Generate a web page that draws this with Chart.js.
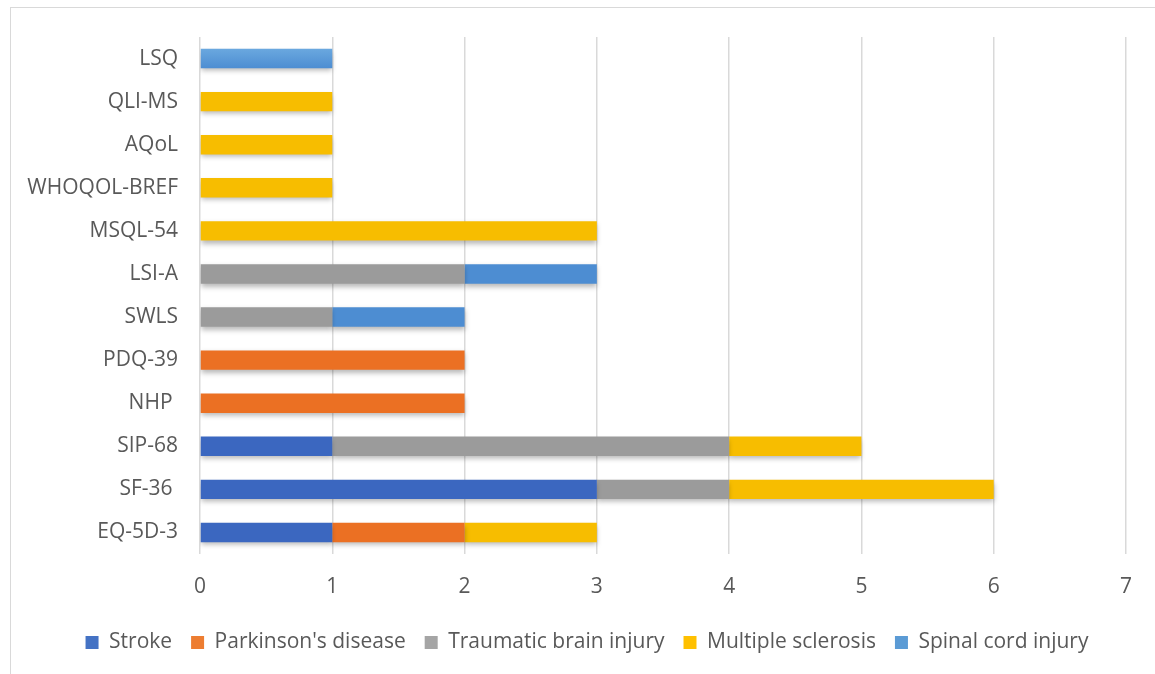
<!DOCTYPE html>
<html>
<head>
<meta charset="utf-8">
<script src="https://cdn.jsdelivr.net/npm/chart.js@4/dist/chart.umd.min.js"></script>
<style>
  html, body { margin: 0; padding: 0; background: #fff; }
  #wrap { position: relative; width: 1155px; height: 674px; overflow: hidden; }
  #frame { position: absolute; left: 10px; top: 7px; width: 1160px; height: 700px; border: 1px solid #d9d9d9; box-sizing: border-box; }
  canvas { position: absolute; left: 0; top: 0; }
</style>
</head>
<body>
<div id="wrap">
  <div id="frame"></div>
  <canvas id="c" width="1155" height="674"></canvas>
</div>
<script>
// Quality-of-life instruments, listed bottom to top on the chart
const instruments = ['EQ-5D-3', 'SF-36 ', 'SIP-68', 'NHP ', 'PDQ-39', 'SWLS', 'LSI-A', 'MSQL-54', 'WHOQOL-BREF', 'AQoL', 'QLI-MS', 'LSQ'];

// Number of uses per condition, same order as instruments
const stroke      = [1, 3, 1, 0, 0, 0, 0, 0, 0, 0, 0, 0];
const parkinsons  = [1, 0, 0, 2, 2, 0, 0, 0, 0, 0, 0, 0];
const brainInjury = [0, 1, 3, 0, 0, 1, 2, 0, 0, 0, 0, 0];
const msclerosis  = [1, 2, 1, 0, 0, 0, 0, 3, 1, 1, 1, 0];
const spinalCord  = [0, 0, 0, 0, 0, 1, 1, 0, 0, 0, 0, 1];

const xTicks = [0, 1, 2, 3, 4, 5, 6, 7];

const FONT = '"Open Sans", "Liberation Sans", sans-serif';
const TEXT = '#595959';

// Top/bottom shade pairs per series
const shades = {
  'Stroke': ['#5f89d6', '#3b67c0'],
  "Parkinson's disease": ['#f39255', '#eb7023'],
  'Traumatic brain injury': ['#b3b3b3', '#9b9b9b'],
  'Multiple sclerosis': ['#ffcc40', '#f7bd00'],
  'Spinal cord injury': ['#6aa8df', '#4d8dd2']
};

const series = [
  { label: 'Stroke', data: stroke, color: '#4472C4' },
  { label: "Parkinson's disease", data: parkinsons, color: '#ED7D31' },
  { label: 'Traumatic brain injury', data: brainInjury, color: '#A5A5A5' },
  { label: 'Multiple sclerosis', data: msclerosis, color: '#FFC000' },
  { label: 'Spinal cord injury', data: spinalCord, color: '#5B9BD5' }
];

// Vertical gradient and soft drop shadow on each bar
const barLook = {
  id: 'barLook',
  beforeDatasetsDraw(chart) {
    const ctx = chart.ctx;
    chart.data.datasets.forEach((ds, i) => {
      const meta = chart.getDatasetMeta(i);
      const pair = shades[ds.label];
      meta.data.forEach(bar => {
        const h = bar.height || 0;
        const g = ctx.createLinearGradient(0, bar.y - h / 2, 0, bar.y + h / 2);
        g.addColorStop(0, pair[0]);
        g.addColorStop(1, pair[1]);
        bar.options.backgroundColor = g;
      });
    });
    ctx.save();
    ctx.shadowColor = 'rgba(0,0,0,0.28)';
    ctx.shadowBlur = 5;
    ctx.shadowOffsetX = 0;
    ctx.shadowOffsetY = 3;
  },
  afterDatasetsDraw(chart) {
    chart.ctx.restore();
  }
};

// Center the legend row on the outer frame rather than the padded canvas
const legendShift = {
  id: 'legendShift',
  afterLayout(chart) {
    if (chart.legend) {
      chart.legend.left += 19;
      chart.legend.right += 19;
    }
  }
};

new Chart(document.getElementById('c'), {
  type: 'bar',
  data: {
    labels: instruments,
    datasets: series.map(s => ({
      label: s.label,
      data: s.data,
      backgroundColor: s.color,
      borderWidth: 0,
      barPercentage: 0.45,
      categoryPercentage: 1.0
    }))
  },
  options: {
    indexAxis: 'y',
    responsive: false,
    animation: false,
    layout: { padding: { left: 10, right: 29, top: 37, bottom: 11 } },
    scales: {
      x: {
        stacked: true,
        min: 0,
        max: 7,
        afterBuildTicks(scale) { scale.ticks = xTicks.map(v => ({ value: v })); },
        afterFit(scale) { scale.height = 59; },
        grid: { color: '#d9d9d9', lineWidth: 1.5, drawTicks: false },
        border: { display: false },
        ticks: { color: TEXT, font: { family: FONT, size: 21 }, padding: 20 }
      },
      y: {
        stacked: true,
        reverse: true,
        afterFit(scale) { scale.width = 190; },
        grid: { display: false, drawTicks: false },
        border: { display: false },
        ticks: { color: TEXT, font: { family: FONT, size: 21 }, padding: 22 }
      }
    },
    plugins: {
      legend: {
        position: 'bottom',
        labels: {
          color: TEXT,
          font: { family: FONT, size: 21 },
          boxWidth: 13,
          boxHeight: 13,
          padding: 19
        }
      },
      tooltip: { enabled: false }
    }
  },
  plugins: [barLook, legendShift]
});
</script>
</body>
</html>
